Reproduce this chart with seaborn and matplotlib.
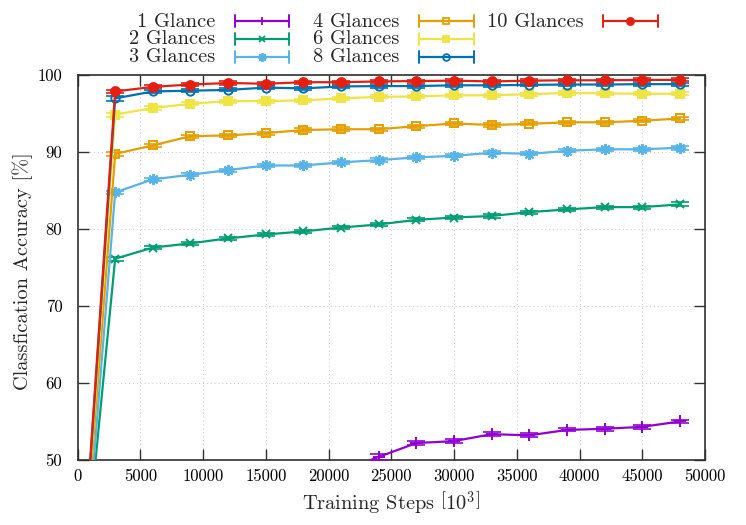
import matplotlib
matplotlib.use("Agg")
import matplotlib.pyplot as plt
import seaborn as sns
from matplotlib.lines import Line2D

# ---------------- data ----------------
steps = [0, 3000, 6000, 9000, 12000, 15000, 18000, 21000, 24000,
         27000, 30000, 33000, 36000, 39000, 42000, 45000, 48000]

labels = ["1 Glance", "2 Glances", "3 Glances", "4 Glances",
          "6 Glances", "8 Glances", "10 Glances"]

acc_1 = [25.0, 35.0, 40.0, 43.0, 45.0, 46.5, 47.5, 48.5, 50.4,
         52.2, 52.45, 53.35, 53.2, 53.9, 54.05, 54.3, 55.0]
acc_2 = [26.0, 76.1, 77.55, 78.1, 78.75, 79.25, 79.65, 80.15, 80.55,
         81.15, 81.45, 81.65, 82.15, 82.5, 82.8, 82.8, 83.15]
acc_3 = [23.5, 84.7, 86.4, 87.0, 87.6, 88.2, 88.2, 88.6, 88.9,
         89.25, 89.45, 89.85, 89.7, 90.1, 90.3, 90.3, 90.5]
acc_4 = [25.5, 89.7, 90.8, 92.0, 92.1, 92.4, 92.8, 92.9, 92.9,
         93.3, 93.65, 93.45, 93.6, 93.8, 93.8, 94.0, 94.3]
acc_6 = [25.5, 94.8, 95.65, 96.2, 96.55, 96.55, 96.65, 96.9, 97.1,
         97.15, 97.3, 97.3, 97.45, 97.6, 97.55, 97.5, 97.5]
acc_8 = [25.5, 96.9, 97.8, 97.9, 98.0, 98.3, 98.2, 98.45, 98.5,
         98.5, 98.6, 98.6, 98.65, 98.7, 98.7, 98.75, 98.75]
acc_10 = [25.7, 97.8, 98.4, 98.7, 98.9, 98.8, 99.0, 99.0, 99.1,
          99.15, 99.2, 99.1, 99.2, 99.25, 99.25, 99.3, 99.3]

err_1 = [0.3] * 8 + [0.35, 0.25, 0.25, 0.25, 0.25, 0.2, 0.25, 0.3, 0.25]
err_2 = [0.3, 0.25, 0.2, 0.2, 0.2, 0.2, 0.2, 0.2, 0.2,
         0.2, 0.2, 0.2, 0.2, 0.2, 0.2, 0.2, 0.25]
err_3 = [0.3, 0.25, 0.2, 0.2, 0.2, 0.2, 0.25, 0.2, 0.25,
         0.2, 0.2, 0.2, 0.2, 0.2, 0.2, 0.2, 0.25]
err_4 = [0.3, 0.3, 0.2, 0.2, 0.2, 0.2, 0.2, 0.25, 0.2,
         0.2, 0.25, 0.25, 0.2, 0.2, 0.2, 0.2, 0.25]
err_6 = [0.3, 0.25, 0.2, 0.2, 0.2, 0.2, 0.2, 0.2, 0.2,
         0.2, 0.2, 0.2, 0.2, 0.2, 0.2, 0.2, 0.2]
err_8 = [0.3, 0.35, 0.2, 0.2, 0.2, 0.2, 0.2, 0.2, 0.2,
         0.2, 0.2, 0.2, 0.2, 0.2, 0.2, 0.2, 0.2]
err_10 = [0.3, 0.25, 0.2, 0.2, 0.2, 0.2, 0.2, 0.2, 0.2,
          0.2, 0.2, 0.2, 0.2, 0.2, 0.2, 0.2, 0.2]

series = [acc_1, acc_2, acc_3, acc_4, acc_6, acc_8, acc_10]
errors = [err_1, err_2, err_3, err_4, err_6, err_8, err_10]
colors = ["#9400d3", "#009e73", "#56b4e9", "#e69f00",
          "#f0e442", "#0072b2", "#e51e10"]
markers = ["+", "x", (8, 2, 0), "s", "s", "o", "o"]
filled = [True, True, True, False, True, False, True]
msizes = [8, 5.5, 8, 6, 6.2, 6, 6.4]

xticks = list(range(0, 50001, 5000))
yticks = [50, 60, 70, 80, 90, 100]

# ---------------- style ----------------
sns.set_theme(style="ticks")
plt.rcParams["font.family"] = ["cmr10", "DejaVu Serif"]
plt.rcParams["mathtext.fontset"] = "cm"
plt.rcParams["axes.formatter.use_mathtext"] = True
plt.rcParams["axes.unicode_minus"] = False

W, H = 746.0, 525.0
fig = plt.figure(figsize=(7.46, 5.25), dpi=100)
ax = fig.add_axes([77.5 / W, 1 - 460 / H, (705 - 77.5) / W, (460 - 74.5) / H])

for acc, err, c, m, f, ms in zip(series, errors, colors, markers, filled, msizes):
    ax.errorbar(steps, acc, yerr=err, fmt="none", ecolor=c, elinewidth=1.2,
                capsize=6.5, capthick=1.2, zorder=3)
    sns.lineplot(x=steps, y=acc, ax=ax, color=c, marker=m, markersize=ms,
                 markerfacecolor=(c if f else "none"), markeredgecolor=c,
                 markeredgewidth=1.4, linewidth=1.6, zorder=4,
                 errorbar=None, legend=False)

ax.set_xlim(0, 50000)
ax.set_ylim(50, 100)
ax.set_xticks(xticks)
ax.set_yticks(yticks)
ax.set_xticklabels([str(t) for t in xticks])
ax.set_yticklabels([str(t) for t in yticks])
ax.grid(True, linestyle=(0, (1, 3)), color="#c4c4c4", linewidth=0.7)
ax.tick_params(direction="in", length=8, width=1.0, top=True, right=True,
               labelsize=12, colors="#303030", labelcolor="black")
ax.tick_params(axis="y", pad=11)
ax.tick_params(axis="x", pad=6)
for s in ax.spines.values():
    s.set_color("#303030")
    s.set_linewidth(1.2)
ax.set_xlabel("")
ax.set_ylabel("")

fig.text(391 / W, 1 - 503 / H, r"Training Steps $\left[10^3\right]$",
         ha="center", va="center", fontsize=14.7)
fig.text(23 / W, 1 - 271 / H, "Classfication Accuracy [%]",
         ha="center", va="center", rotation=90, fontsize=14.7)

# ---------------- legend (gnuplot style) ----------------
col_text_x = [215, 399.5, 584]
col_line_x = [(234.5, 289), (419, 473.5), (602.5, 657.5)]
row_y = [21, 38.5, 56.5]
for i, (lab, c, m, f, ms) in enumerate(zip(labels, colors, markers, filled, msizes)):
    col = 0 if i < 3 else (1 if i < 6 else 2)
    row = i if i < 3 else (i - 3 if i < 6 else 0)
    y = 1 - row_y[row] / H
    fig.text(col_text_x[col] / W, y - 1.0 / H, lab, ha="right", va="center",
             fontsize=14.7)
    x0, x1 = col_line_x[col]
    fig.add_artist(Line2D([x0 / W, x1 / W], [y, y], color=c, lw=1.6,
                          transform=fig.transFigure))
    for xc in (x0, x1):
        fig.add_artist(Line2D([xc / W, xc / W], [y - 6 / H, y + 6 / H],
                              color=c, lw=1.4, transform=fig.transFigure))
    fig.add_artist(Line2D([(x0 + x1) / 2 / W], [y], color=c, marker=m,
                          markersize=ms * 0.8, markeredgewidth=1.3,
                          markerfacecolor=(c if f else "none"),
                          markeredgecolor=c, transform=fig.transFigure))

fig.savefig("out.png", dpi=100)
